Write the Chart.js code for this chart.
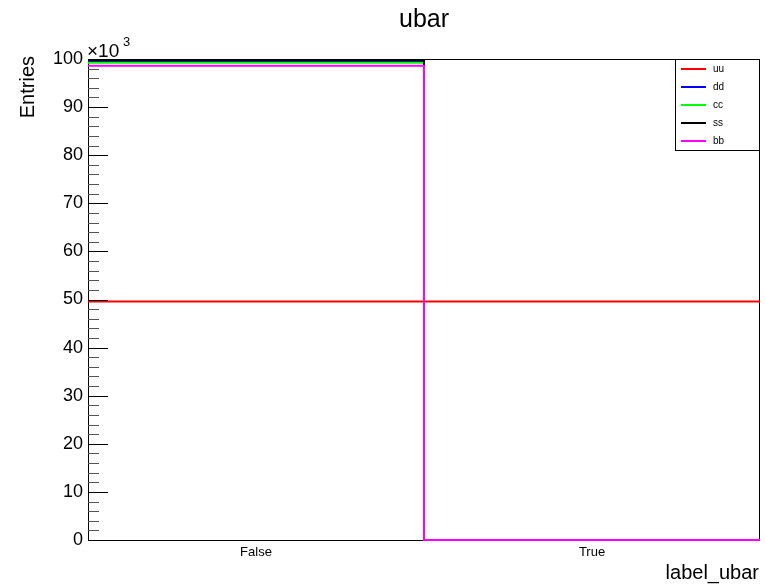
<!DOCTYPE html>
<html>
<head>
<meta charset="utf-8">
<script src="https://cdn.jsdelivr.net/npm/chart.js@4/dist/chart.umd.min.js"></script>
<style>
  html, body { margin: 0; padding: 0; background: #fff; }
  #wrap { width: 765px; height: 588px; }
</style>
</head>
<body>
<div id="wrap"><canvas id="ubarChart" width="765" height="588"></canvas></div>
<script>
// Bins of label_ubar
const categories = ['False', 'True'];

// Entries per bin for each sample
const seriesNames = ['uu', 'dd', 'cc', 'ss', 'bb'];
const seriesColors = ['#ff0000', '#0000ff', '#00ff00', '#000000', '#ff00ff'];
const uuValues = [49600, 49600];
const ddValues = [99600, 0];
const ccValues = [99200, 0];
const ssValues = [99750, 0];
const bbValues = [98600, 0];

// Y axis tick values (shown x10^3)
const yTickValues = [0, 10000, 20000, 30000, 40000, 50000, 60000, 70000, 80000, 90000, 100000];

const allValues = [uuValues, ddValues, ccValues, ssValues, bbValues];

// Turn bin contents into step points: left edge of each bin, plus the right edge of the last one
function stepPoints(values) {
    const pts = values.map((v, i) => ({ x: i, y: v }));
    pts.push({ x: values.length, y: values[values.length - 1] });
    return pts;
}

// later series are drawn on top, like ROOT's "same" option
const datasets = seriesNames.map((name, i) => ({
    label: name,
    data: stepPoints(allValues[i]),
    borderColor: seriesColors[i],
    backgroundColor: seriesColors[i],
    borderWidth: 2,
    stepped: 'before', // horizontal first, then the vertical at the bin edge
    pointRadius: 0,
    fill: false,
    clip: 3,
    order: seriesNames.length - i,
}));

const FONT = 'Liberation Sans, Arial, Helvetica, sans-serif';

// Frame under the histograms
const rootFrame = {
    id: 'rootFrame',
    beforeDatasetsDraw(chart) {
        const ctx = chart.ctx;
        const area = chart.chartArea;
        ctx.save();
        ctx.strokeStyle = '#000';
        ctx.lineWidth = 1;
        ctx.strokeRect(area.left + 0.5, area.top + 0.5, area.right - area.left - 1, area.bottom - area.top);
        ctx.restore();
    }
};

// Inner ticks, titles and legend in ROOT style
const rootStyle = {
    id: 'rootStyle',
    afterDatasetsDraw(chart) {
        const ctx = chart.ctx;
        const area = chart.chartArea;
        const y = chart.scales.y;
        ctx.save();

        // y ticks inside the frame: major every 10k, minor every 2k
        ctx.lineWidth = 1;
        for (let v = 2000; v <= 98000; v += 2000) {
            const py = Math.round(y.getPixelForValue(v)) + 0.5;
            const major = v % 10000 === 0;
            ctx.strokeStyle = major ? '#000' : '#555';
            ctx.beginPath();
            ctx.moveTo(area.left, py);
            ctx.lineTo(area.left + (major ? 20 : 11), py);
            ctx.stroke();
        }

        // x10^3 exponent
        ctx.fillStyle = '#000';
        ctx.textBaseline = 'alphabetic';
        ctx.textAlign = 'left';
        ctx.font = '19px ' + FONT;
        ctx.fillText('\u00d710', area.left - 1, area.top - 2);
        ctx.font = '13px ' + FONT;
        ctx.fillText('3', area.left + 35, area.top - 13);

        // title
        ctx.textAlign = 'center';
        ctx.textBaseline = 'middle';
        ctx.font = '25px ' + FONT;
        ctx.fillText('ubar', 424, 20);

        // axis titles
        ctx.font = '20px ' + FONT;
        ctx.textAlign = 'right';
        ctx.fillText('label_ubar', 759, 573);
        ctx.save();
        ctx.translate(28, area.top - 3);
        ctx.rotate(-Math.PI / 2);
        ctx.textAlign = 'right';
        ctx.fillText('Entries', 0, 0);
        ctx.restore();

        // legend box
        const lx = 675, ly = area.top, lw = area.right - 675, lh = 91;
        ctx.fillStyle = '#fff';
        ctx.fillRect(lx, ly, lw, lh);
        ctx.strokeStyle = '#000';
        ctx.lineWidth = 1;
        ctx.strokeRect(lx + 0.5, ly + 0.5, lw - 1, lh);
        ctx.font = '10px ' + FONT;
        ctx.textAlign = 'left';
        ctx.textBaseline = 'middle';
        seriesNames.forEach((name, i) => {
            const ry = ly + 10 + i * 18;
            ctx.strokeStyle = seriesColors[i];
            ctx.lineWidth = 2;
            ctx.beginPath();
            ctx.moveTo(681, ry);
            ctx.lineTo(706, ry);
            ctx.stroke();
            ctx.fillStyle = '#000';
            ctx.fillText(name, 713, ry);
        });

        ctx.restore();
    }
};

new Chart(document.getElementById('ubarChart').getContext('2d'), {
    type: 'line',
    data: { datasets: datasets },
    options: {
        responsive: false,
        animation: false,
        layout: { padding: { left: 0, right: 5, top: 59, bottom: 0 } },
        plugins: {
            legend: { display: false },
            title: { display: false },
            tooltip: { enabled: false },
        },
        scales: {
            x: {
                type: 'linear',
                min: 0,
                max: categories.length,
                grid: { display: false, drawTicks: false },
                border: { display: false },
                afterBuildTicks: (scale) => {
                    scale.ticks = categories.map((c, i) => ({ value: i + 0.5 }));
                },
                afterFit: (scale) => { scale.height = 48; },
                ticks: {
                    autoSkip: false,
                    maxRotation: 0,
                    padding: 5,
                    color: '#000',
                    font: { family: FONT, size: 13 },
                    callback: (v) => categories[Math.floor(v)],
                },
            },
            y: {
                min: 0,
                max: 100000,
                grid: { display: false, drawTicks: false },
                border: { display: false },
                afterBuildTicks: (scale) => {
                    scale.ticks = yTickValues.map((v) => ({ value: v }));
                },
                afterFit: (scale) => { scale.width = 88; },
                ticks: {
                    padding: 5,
                    color: '#000',
                    font: { family: FONT, size: 18 },
                    callback: (v) => String(v / 1000),
                },
            },
        },
    },
    plugins: [rootFrame, rootStyle],
});
</script>
</body>
</html>
